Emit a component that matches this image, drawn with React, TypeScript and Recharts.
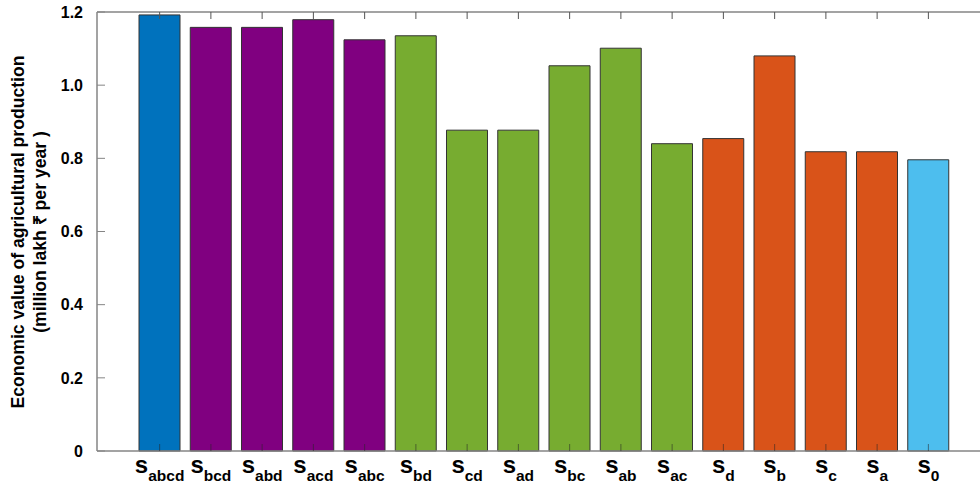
import React from 'react';
import { BarChart, Bar, XAxis, YAxis, Cell, Label } from 'recharts';

// subscripts of the scenario labels (s_abcd ... s_0)
const scenarios = ['abcd', 'bcd', 'abd', 'acd', 'abc', 'bd', 'cd', 'ad', 'bc', 'ab', 'ac', 'd', 'b', 'c', 'a', '0'];
const production = [1.192, 1.158, 1.158, 1.179, 1.124, 1.135, 0.877, 0.877, 1.053, 1.101, 0.84, 0.854, 1.08, 0.818, 0.818, 0.796];
const groups = ['all', 'three', 'three', 'three', 'three', 'two', 'two', 'two', 'two', 'two', 'two', 'one', 'one', 'one', 'one', 'none'];
const yTicks = [0, 0.2, 0.4, 0.6, 0.8, 1.0, 1.2];

const groupColors: Record<string, string> = {
  all: '#0072BD',
  three: '#800080',
  two: '#77AC30',
  one: '#D95319',
  none: '#4DBEEE',
};

const data = scenarios.map((s, i) => ({ name: s, value: production[i], group: groups[i] }));

const AXIS = '#858585';
const FONT = '"Liberation Sans", Arial, Helvetica, sans-serif';

const BottomTick = (props: any) => {
  const { x, y, payload } = props;
  return (
    <g>
      <line x1={x} y1={y} x2={x} y2={y - 7} stroke="#262626" strokeOpacity={0.55} />
      <text x={x} y={y + 22} textAnchor="middle" fontFamily={FONT} fontWeight="bold" fill="#000">
        <tspan fontSize={24}>s</tspan>
        <tspan fontSize={15.5} dy={8}>{payload.value}</tspan>
      </text>
    </g>
  );
};

const TopTick = (props: any) => {
  const { x, y } = props;
  return <line x1={x} y1={y} x2={x} y2={y + 7} stroke="#555" />;
};

const LeftTick = (props: any) => {
  const { x, y, payload } = props;
  const v = Number(payload.value);
  return (
    <g>
      <line x1={x} y1={y} x2={x + 8} y2={y} stroke={AXIS} />
      <text x={83} y={y} dy="0.36em" textAnchor="end" fontFamily={FONT} fontWeight="bold" fontSize={16} fill="#000">
        {v === 0 ? '0' : v.toFixed(1)}
      </text>
    </g>
  );
};

const YTitle = () => (
  <g fontFamily={FONT} fontWeight="bold" fontSize={17.6} fill="#000">
    <text x={18} y={232} transform="rotate(-90, 18, 232)" textAnchor="middle" dominantBaseline="central">
      Economic value of agricultural production
    </text>
    <text x={40} y={232} transform="rotate(-90, 40, 232)" textAnchor="middle" dominantBaseline="central">
      (million lakh ₹ per year )
    </text>
  </g>
);

export default function App() {
  return (
    <div style={{ position: 'absolute', left: 0, top: 0, width: 980, height: 485, background: '#fff' }}>
      <BarChart width={980} height={485} data={data} margin={{ top: 11, right: 0, bottom: 0, left: 0 }} barSize={41}>
        <XAxis
          xAxisId="top"
          orientation="top"
          dataKey="name"
          height={1}
          padding={{ left: 37, right: 26 }}
          axisLine={{ stroke: AXIS, strokeWidth: 1.5 }}
          tickLine={false}
          tickSize={0}
          tickMargin={0}
          tick={<TopTick />}
          interval={0}
        />
        <XAxis
          dataKey="name"
          height={34}
          padding={{ left: 37, right: 26 }}
          axisLine={{ stroke: AXIS, strokeWidth: 1.5 }}
          tickLine={false}
          tickSize={0}
          tickMargin={0}
          tick={<BottomTick />}
          interval={0}
        />
        <YAxis
          type="number"
          width={97}
          domain={[0, 1.2]}
          ticks={yTicks}
          axisLine={{ stroke: AXIS, strokeWidth: 1.5 }}
          tickLine={false}
          tickSize={0}
          tickMargin={0}
          tick={<LeftTick />}
          interval={0}
        >
          <Label content={() => <YTitle />} />
        </YAxis>
        <Bar dataKey="value" isAnimationActive={false} stroke="#333" strokeWidth={1}>
          {data.map((d, i) => (
            <Cell key={i} fill={groupColors[d.group]} />
          ))}
        </Bar>
      </BarChart>
    </div>
  );
}
